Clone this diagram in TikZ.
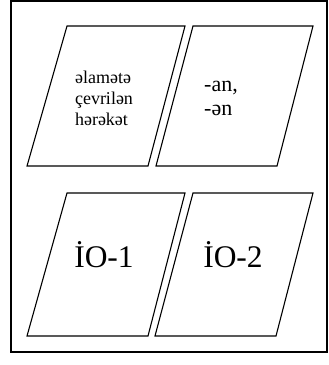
\documentclass[tikz,border=0pt]{standalone}
\usepackage{fontspec}
\setmainfont{Liberation Serif}
\begin{document}
\begin{tikzpicture}[x=1pt,y=-1pt,
  frame/.style={draw=black,line width=1.6pt},
  para/.style={draw=black,line width=1.1pt,line join=miter},
  txt/.style={inner sep=0pt,align=left,font=\fontsize{18}{21}\selectfont},
  txtb/.style={inner sep=0pt,align=left,font=\fontsize{22}{24}\selectfont},
  big/.style={inner sep=0pt,font=\fontsize{31.5}{34}\selectfont}]
\useasboundingbox (0,0) rectangle (329,365);
\draw[frame] (11,1) rectangle (327,352);
% parallelograms
\coordinate (a1) at (67,26); \coordinate (a2) at (185,26);
\coordinate (a3) at (148,166); \coordinate (a4) at (27,166);
\draw[para] (a1) -- (a2) -- (a3) -- (a4) -- cycle;
\coordinate (b1) at (193,26); \coordinate (b2) at (313,26);
\coordinate (b3) at (277,166); \coordinate (b4) at (156,166);
\draw[para] (b1) -- (b2) -- (b3) -- (b4) -- cycle;
\coordinate (c1) at (67,193); \coordinate (c2) at (185,193);
\coordinate (c3) at (148,336); \coordinate (c4) at (27,336);
\draw[para] (c1) -- (c2) -- (c3) -- (c4) -- cycle;
\coordinate (d1) at (193,193); \coordinate (d2) at (313,193);
\coordinate (d3) at (276,336); \coordinate (d4) at (155,336);
\draw[para] (d1) -- (d2) -- (d3) -- (d4) -- cycle;
% texts
\node[txt] (t1) at (104,98) {əlamətə\\çevrilən\\hərəkət};
\node[txtb] (t2) at (221,98) {-an,\\-ən};
\node[big] (t3) at (104,255) {İO-1};
\node[big] (t4) at (233,255) {İO-2};
\end{tikzpicture}
\end{document}
